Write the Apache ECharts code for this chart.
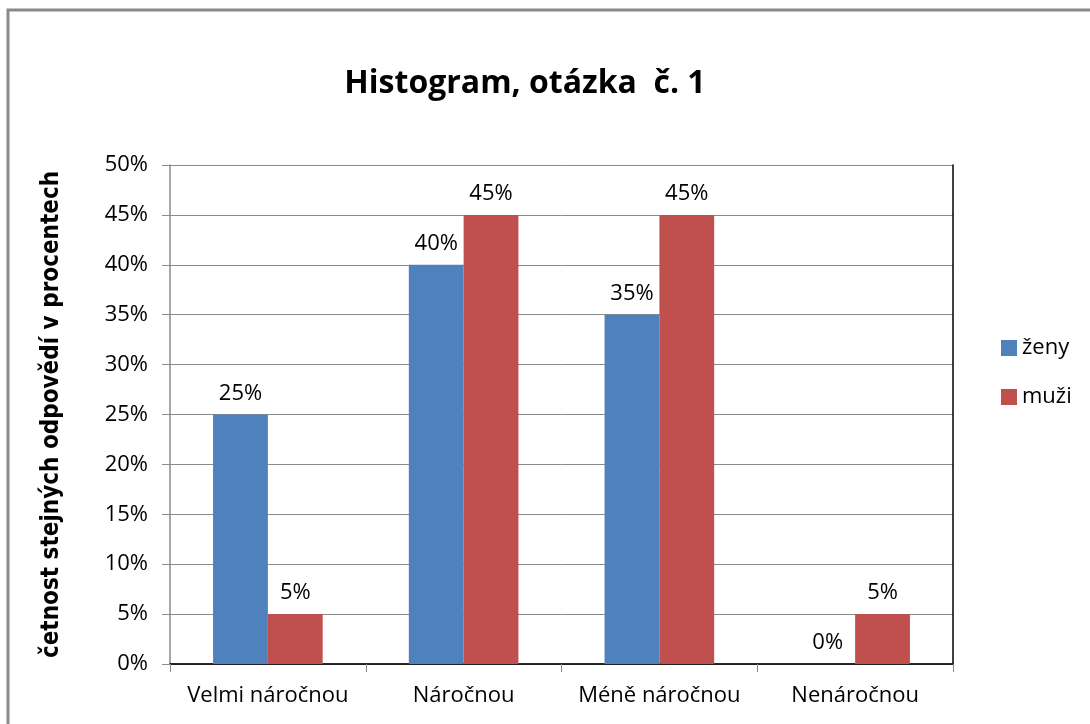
<!DOCTYPE html>
<html><head><meta charset="utf-8">
<script src="https://cdn.jsdelivr.net/npm/echarts@6/dist/echarts.min.js"></script>
<style>html,body{margin:0;padding:0;background:#fff}#c{width:1090px;height:724px}</style>
</head><body><div id="c"></div>
<script>
const categories = ["Velmi náročnou", "Náročnou", "Méně náročnou", "Nenáročnou"];
const zeny = [25, 40, 35, 0];
const muzi = [5, 45, 45, 5];
const yTicks = [0, 5, 10, 15, 20, 25, 30, 35, 40, 45, 50];

const font = "'Open Sans', 'Noto Sans', sans-serif";
const chart = echarts.init(document.getElementById('c'), null, {renderer: 'canvas'});
const lbl = {show: true, position: 'top', distance: 10, formatter: p => p.value + '%', color: '#000', fontSize: 22, fontFamily: font};
chart.setOption({
  animation: false,
  backgroundColor: '#fff',
  title: {text: 'Histogram, otázka  č. 1', left: 520, top: 63, textAlign: 'center',
    textStyle: {fontSize: 32, fontWeight: 'bold', fontFamily: font, color: '#000'}},
  graphic: [{type: 'rect', shape: {x: 8, y: 10, width: 1200, height: 800},
    style: {fill: 'none', stroke: '#8a8a8a', lineWidth: 3}}],
  legend: {orient: 'vertical', left: 996, top: 332, itemGap: 27, itemWidth: 16, itemHeight: 16,
    icon: 'rect', textStyle: {fontSize: 22, fontFamily: font, color: '#000'},
    data: ['ženy', 'muži']},
  grid: {left: 170, right: 137, top: 165, bottom: 60},
  xAxis: [{type: 'category', data: categories,
    axisLine: {lineStyle: {color: '#8a8a8a', width: 1.5}},
    axisTick: {show: true, length: 8, lineStyle: {color: '#8a8a8a'}},
    axisLabel: {interval: 0, hideOverlap: false, fontSize: 22, fontFamily: font, color: '#000', margin: 21}},
   {type: 'category', position: 'top', data: categories, axisLine: {show: true, lineStyle: {color: '#000', width: 1.5}},
    axisTick: {show: false}, axisLabel: {show: false}}],
  yAxis: [{type: 'value', min: 0, max: 50, interval: 5,
    name: 'četnost stejných odpovědí v procentech', nameLocation: 'middle', nameGap: 106, nameRotate: 90,
    nameTextStyle: {fontSize: 24, fontWeight: 'bold', fontFamily: "'DejaVu Sans Condensed', 'Liberation Sans Narrow', sans-serif", color: '#000'},
    axisLine: {show: true, lineStyle: {color: '#8a8a8a', width: 1.5}},
    axisTick: {show: true, length: 8, lineStyle: {color: '#8a8a8a'}},
    axisLabel: {fontSize: 22, fontFamily: font, color: '#000', margin: 22,
      formatter: v => yTicks.includes(v) ? v + '%' : ''},
    splitLine: {lineStyle: {color: '#8a8a8a', width: 1}}},
   {type: 'value', position: 'right', min: 0, max: 50, interval: 5,
    axisLine: {show: true, lineStyle: {color: '#000', width: 1.5}}, axisTick: {show: false},
    axisLabel: {show: false}, splitLine: {show: false}}],
  series: [
    {name: 'ženy', type: 'bar', data: zeny, barGap: '0%', barCategoryGap: '44%',
     itemStyle: {color: '#4f81bd'}, label: lbl},
    {name: 'muži', type: 'bar', data: muzi, barGap: '0%', barCategoryGap: '44%',
     itemStyle: {color: '#c0504d'}, label: lbl}
  ]
});
</script></body></html>
